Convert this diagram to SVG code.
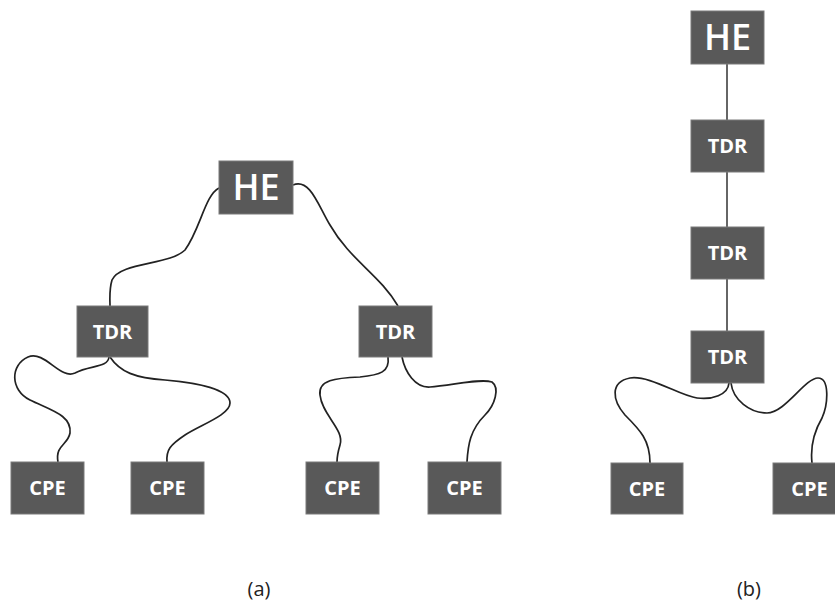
<svg xmlns="http://www.w3.org/2000/svg" width="835" height="604" viewBox="0 0 835 604">
<style>
.box{fill:#595959;stroke:#7a7a7a;stroke-width:1}
.t{fill:#fff;font-family:"Open Sans","DejaVu Sans",sans-serif;font-weight:bold;font-size:20px;text-anchor:middle}
.he{fill:#fff;font-family:"Open Sans","DejaVu Sans",sans-serif;font-weight:600;font-size:36px;text-anchor:middle}
.w{fill:none;stroke:#222;stroke-width:1.7}
.v{fill:none;stroke:#666;stroke-width:2}
.lab{fill:#222;font-family:"Open Sans","DejaVu Sans",sans-serif;font-size:20px;text-anchor:middle}
</style>
<rect width="835" height="604" fill="#fff"/>
<g id="connectors">
<path class="w" d="M219,188 C205,195 200,230 185,250 C170,265 120,262 112,280 C109,290 110,300 110,306"/>
<path class="w" d="M293,185 C310,178 318,205 330,225 C350,260 380,275 398,306"/>
<path class="w" d="M109,357 C108,368 90,365 75,373 C60,380 45,350 28,357 C10,365 10,390 30,400 C50,410 72,415 70,433 C68,445 55,445 58,462"/>
<path class="w" d="M110,357 C120,372 135,378 165,380 C200,383 230,390 230,403 C230,415 200,425 185,435 C170,445 166,450 167,462"/>
<path class="w" d="M388,357 C390,372 380,375 360,377 C335,378 318,380 320,395 C322,415 345,430 340,445 C337,455 337,460 337,462"/>
<path class="w" d="M402,357 C405,372 415,388 430,387 C450,386 480,378 492,382 C500,388 495,405 485,415 C470,430 468,445 467,462"/>
<path class="v" d="M727,64 V120 M727,172 V227 M727,279 V331"/>
<path class="w" d="M729,383 C728,395 712,400 697,398 C680,396 650,375 630,378 C610,382 612,400 625,415 C640,430 650,440 650,463"/>
<path class="w" d="M731,383 C733,400 750,413 767,413 C785,413 805,378 818,378 C830,378 828,405 822,418 C815,430 810,445 812,463"/>
</g>
<g id="he-a"><rect class="box" x="219" y="161" width="74" height="53"/><text class="he" x="256" y="200">HE</text></g>
<g id="tdr-a1"><rect class="box" x="77" y="306" width="71" height="51"/><text class="t" x="112.5" y="339">TDR</text></g>
<g id="tdr-a2"><rect class="box" x="359" y="306" width="73" height="51"/><text class="t" x="395.5" y="339">TDR</text></g>
<g id="cpe-a1"><rect class="box" x="11" y="462" width="73" height="52"/><text class="t" x="47.5" y="495">CPE</text></g>
<g id="cpe-a2"><rect class="box" x="131" y="462" width="73" height="52"/><text class="t" x="167.5" y="495">CPE</text></g>
<g id="cpe-a3"><rect class="box" x="306" y="462" width="73" height="52"/><text class="t" x="342.5" y="495">CPE</text></g>
<g id="cpe-a4"><rect class="box" x="428" y="462" width="73" height="52"/><text class="t" x="464.5" y="495">CPE</text></g>
<g id="he-b"><rect class="box" x="691" y="11" width="73" height="53"/><text class="he" x="727.5" y="50">HE</text></g>
<g id="tdr-b1"><rect class="box" x="691" y="120" width="73" height="52"/><text class="t" x="727.5" y="153">TDR</text></g>
<g id="tdr-b2"><rect class="box" x="691" y="227" width="73" height="52"/><text class="t" x="727.5" y="260">TDR</text></g>
<g id="tdr-b3"><rect class="box" x="691" y="331" width="73" height="52"/><text class="t" x="727.5" y="364">TDR</text></g>
<g id="cpe-b1"><rect class="box" x="611" y="463" width="72" height="51"/><text class="t" x="647" y="496">CPE</text></g>
<g id="cpe-b2"><rect class="box" x="773" y="463" width="73" height="51"/><text class="t" x="809.5" y="496">CPE</text></g>
<text class="lab" x="259" y="596">(a)</text>
<text class="lab" x="749" y="596">(b)</text>
</svg>
